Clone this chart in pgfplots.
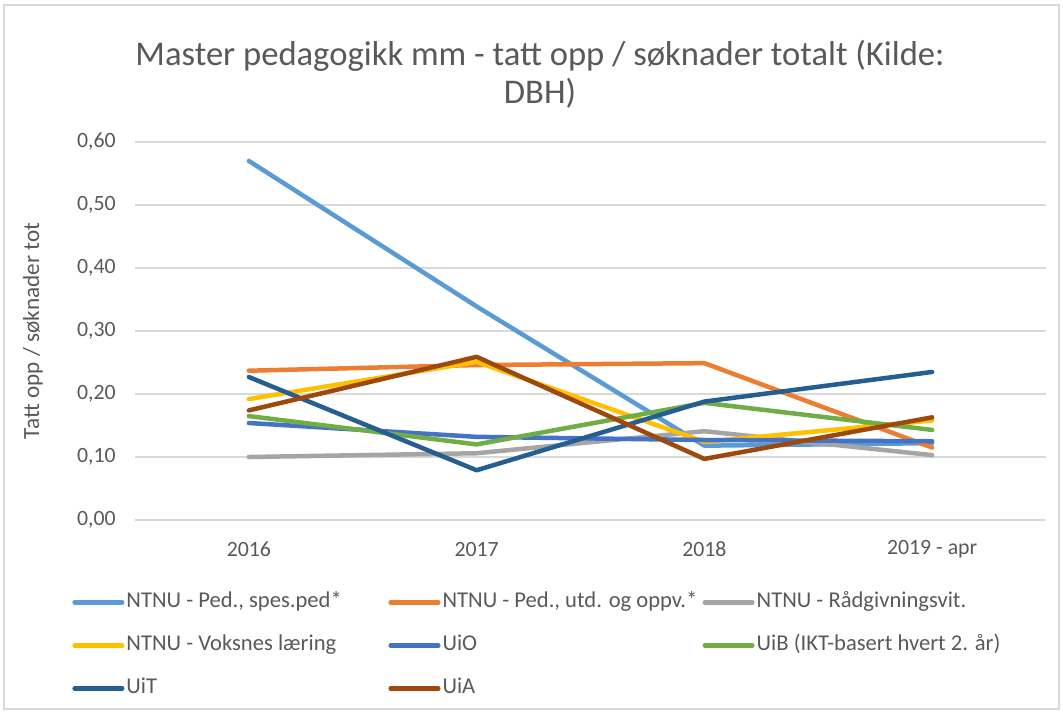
\documentclass[border=0pt]{standalone}
\usepackage{fontspec}
\setmainfont{Carlito}
\usepackage{pgfplots}
\pgfplotsset{compat=1.18}

\definecolor{txt}{HTML}{595959}
\definecolor{gridc}{HTML}{D9D9D9}
\definecolor{sA}{HTML}{5B9BD5}
\definecolor{sB}{HTML}{ED7D31}
\definecolor{sC}{HTML}{A5A5A5}
\definecolor{sD}{HTML}{FFC000}
\definecolor{sE}{HTML}{4472C4}
\definecolor{sF}{HTML}{70AD47}
\definecolor{sG}{HTML}{255E91}
\definecolor{sH}{HTML}{9E480E}

\newcommand{\lab}[2][131pt]{\makebox[#1][l]{#2}}

\begin{document}
\begin{tikzpicture}
\useasboundingbox (0,0) rectangle (531.5pt,-357pt);
\draw[gridc, line width=0.6pt] (2pt,-2.5pt) rectangle (529.5pt,-354.5pt);
\node[font=\fontsize{17.3}{19}\selectfont, text=txt, align=center] at (270pt,-37pt)
  {Master pedagogikk mm - tatt opp / søknader totalt (Kilde:\\DBH)};

\begin{axis}[
    at={(67.5pt,-260pt)}, anchor=south west,
    scale only axis, width=455.5pt, height=189pt,
    xmin=-0.5, xmax=3.5, ymin=0, ymax=0.6,
    xtick={0,1,2,3},
    xticklabels={2016,2017,2018,2019 - apr},
    ytick={0,0.1,0.2,0.3,0.4,0.5,0.6},
    axis line style={draw=none},
    major tick length=0pt,
    ymajorgrids,
    grid style={gridc, line width=0.75pt},
    clip=false,
    tick label style={font=\fontsize{10.9}{12}\selectfont, text=txt, inner sep=0pt},
    xticklabel style={anchor=center, yshift=-14.5pt},
    yticklabel style={anchor=east, xshift=-9.5pt,
      /pgf/number format/.cd, fixed, fixed zerofill, precision=2, use comma, assume math mode=true},
    ylabel={Tatt opp / søknader tot},
    ylabel style={at={(axis description cs:-0.112,0.5)}, anchor=center,
      font=\fontsize{11.6}{12}\selectfont, text=txt},
    legend columns=3,
    legend cell align=left,
    legend image code/.code={\draw[#1] (1.1pt,0pt) -- (24.9pt,0pt);},
    legend style={draw=none, fill=none, at={(axis description cs:-0.0692,-0.1905)},
      anchor=north west, font=\fontsize{11.3}{12}\selectfont, text=txt,
      inner sep=0pt, row sep=11.5pt,
      nodes={inner sep=0pt, text height=7.5pt, text depth=2.5pt},
      /tikz/every odd column/.style={column sep=1pt}},
    every axis plot/.append style={line width=2.25pt, line cap=round, line join=round},
]
\addplot[sA] coordinates {(0,0.570) (1,0.339) (2,0.118) (3,0.122)};
\addlegendentry{\lab{NTNU - Ped., spes.ped*}}
\addplot[sB] coordinates {(0,0.237) (1,0.246) (2,0.249) (3,0.115)};
\addlegendentry{\lab[130pt]{NTNU - Ped., utd. og oppv.*}}
\addplot[sC] coordinates {(0,0.100) (1,0.106) (2,0.141) (3,0.103)};
\addlegendentry{\lab{NTNU - Rådgivningsvit.}}
\addplot[sD] coordinates {(0,0.192) (1,0.251) (2,0.124) (3,0.158)};
\addlegendentry{\lab{NTNU - Voksnes læring}}
\addplot[sE] coordinates {(0,0.154) (1,0.132) (2,0.127) (3,0.125)};
\addlegendentry{\lab[130pt]{UiO}}
\addplot[sF] coordinates {(0,0.165) (1,0.120) (2,0.186) (3,0.143)};
\addlegendentry{\lab{UiB (IKT-basert hvert 2. år)}}
\addplot[sG] coordinates {(0,0.227) (1,0.079) (2,0.188) (3,0.235)};
\addlegendentry{\lab{UiT}}
\addplot[sH] coordinates {(0,0.174) (1,0.259) (2,0.097) (3,0.163)};
\addlegendentry{\lab[130pt]{UiA}}
\end{axis}
\end{tikzpicture}
\end{document}
